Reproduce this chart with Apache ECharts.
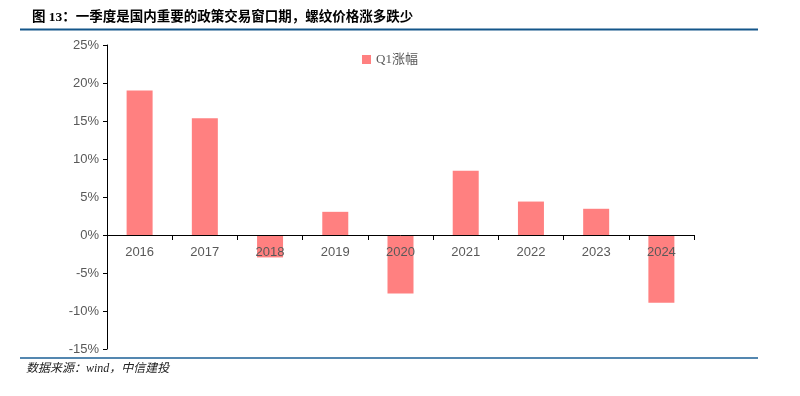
<!DOCTYPE html>
<html>
<head>
<meta charset="utf-8">
<script src="https://cdn.jsdelivr.net/npm/echarts@6/dist/echarts.min.js"></script>
<style>html,body{margin:0;padding:0;background:#fff;}#c{width:800px;height:396px;}</style>
</head>
<body>
<div id="c"></div>
<script>
var categories = ['2016','2017','2018','2019','2020','2021','2022','2023','2024'];
var q1Change = [19.0, 15.35, -2.95, 3.05, -7.7, 8.45, 4.4, 3.45, -8.9];
var seriesName = 'Q1涨幅';
var titleText = '图 13：一季度是国内重要的政策交易窗口期，螺纹价格涨多跌少';
var sourceText = '数据来源：wind，中信建投';
var yMin = -15, yMax = 25;

var gridTop = 45, gridBottom = 47, chartH = 396;
var plotH = chartH - gridTop - gridBottom;
var zeroOffset = -plotH * (0 - yMin) / (yMax - yMin);

var chart = echarts.init(document.getElementById('c'), null, {renderer:'canvas'});
chart.setOption({
  animation: false,
  backgroundColor: '#fff',
  title: {
    text: titleText,
    left: 27, top: 6,
    textStyle: {fontFamily: "'Liberation Serif','Noto Sans CJK SC'", fontWeight: 'bold', fontSize: 13.5, color: '#000'}
  },
  legend: {
    data: [seriesName],
    left: 357, top: 48,
    icon: 'rect',
    itemWidth: 9, itemHeight: 9, itemGap: 5,
    textStyle: {fontFamily: "'Liberation Serif','Noto Sans CJK SC'", fontSize: 13, color: '#595959'}
  },
  grid: {left: 107, right: 106, top: gridTop, bottom: gridBottom, containLabel: false},
  xAxis: {
    type: 'category',
    data: categories,
    position: 'bottom',
    offset: zeroOffset,
    axisLine: {onZero: false, lineStyle: {color: '#000', width: 1}},
    axisTick: {show: true, length: 5, inside: false, alignWithLabel: false, lineStyle: {color: '#000'}},
    axisLabel: {color: '#595959', fontFamily: 'Liberation Sans, Arial', fontSize: 13, margin: 11},
    z: 10
  },
  yAxis: {
    type: 'value',
    min: yMin, max: yMax, interval: 5,
    axisLine: {show: true, lineStyle: {color: '#000', width: 1}},
    axisTick: {show: true, length: 4, lineStyle: {color: '#000'}},
    axisLabel: {color: '#595959', fontFamily: 'Liberation Sans, Arial', fontSize: 13, margin: 8, formatter: '{value}%'},
    splitLine: {show: false}
  },
  series: [{
    name: seriesName,
    type: 'bar',
    data: q1Change,
    barWidth: 26,
    itemStyle: {color: '#FF8080'},
    z: 2
  }],
  graphic: [
    {type: 'line', shape: {x1: 20, y1: 29.5, x2: 758, y2: 29.5}, style: {stroke: '#14568a', lineWidth: 2.2}},
    {type: 'line', shape: {x1: 20, y1: 358, x2: 758, y2: 358}, style: {stroke: '#1b5f96', lineWidth: 1.6}},
    {type: 'text', left: 26, top: 363, style: {text: sourceText, font: "italic 12px 'Liberation Serif','Noto Sans CJK SC'", fill: '#222'}}
  ]
});
</script>
</body>
</html>
